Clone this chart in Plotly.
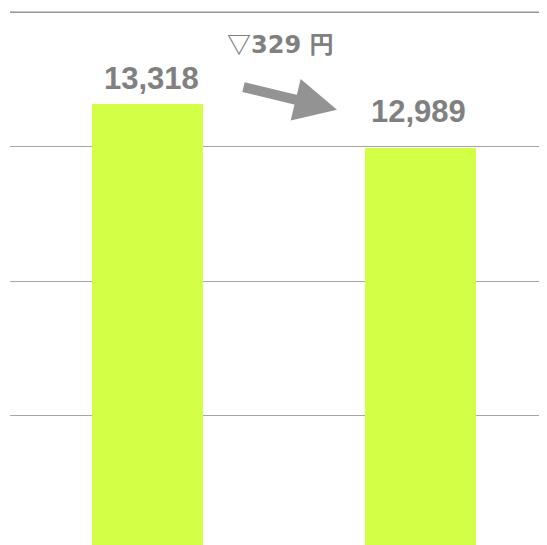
import plotly.graph_objects as go

categories = ["前期", "当期"]
values = [13318, 12989]
value_labels = ["13,318", "12,989"]
diff_mark = "▽"
diff_label = "329 円"
y_ticks = [11000, 12000, 13000, 14000]

fig = go.Figure()
fig.add_trace(go.Bar(
    x=categories, y=values, width=0.407,
    marker=dict(color="#D3FF47", line=dict(width=0)),
    hoverinfo="skip",
))

font_main = "Liberation Sans, Arial, sans-serif"
label_shifts = [25, 37]
label_xshift = [4, -2]
for c, v, t, s, xs in zip(categories, values, value_labels, label_shifts, label_xshift):
    fig.add_annotation(x=c, y=v, text=f"<b>{t}</b>", showarrow=False,
                       yanchor="middle", yshift=s, xshift=xs,
                       font=dict(family=font_main, size=31, color="#808080"))

fig.add_annotation(x=0.485, y=13772, xref="x", yref="y",
                   text=(f"<span style='font-family:Noto Sans CJK JP'><b>{diff_mark}</b></span>"
                         f"<b>{diff_label}</b>"),
                   showarrow=False,
                   font=dict(family="DejaVu Sans, Noto Sans CJK JP, sans-serif", size=24, color="#808080"))

fig.add_annotation(x=0.694, y=13274, xref="x", yref="y", text="",
                   showarrow=True, axref="pixel", ayref="pixel", ax=-95, ay=-23,
                   arrowhead=2, arrowsize=0.85, arrowwidth=10, arrowcolor="#939393",
                   standoff=0)

fig.add_shape(type="line", xref="paper", yref="y", x0=0, x1=1,
              y0=y_ticks[-1], y1=y_ticks[-1], line=dict(color="#8C8C8C", width=1.2))

fig.update_layout(
    width=539, height=537,
    margin=dict(l=2, r=0, t=2, b=0),
    plot_bgcolor="white", paper_bgcolor="white",
    showlegend=False,
    bargap=0,
    xaxis=dict(range=[-0.5037, 1.4634], showticklabels=False, showgrid=False,
               zeroline=False, showline=False, ticks=""),
    yaxis=dict(range=[10040, 14015], tickvals=y_ticks, showticklabels=False,
               showgrid=True, gridcolor="#A6A6A6", gridwidth=1,
               zeroline=False, showline=False, ticks=""),
)

fig.write_html("out.html")
